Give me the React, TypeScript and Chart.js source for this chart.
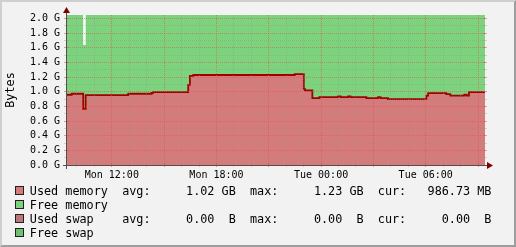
import React, { useEffect, useRef } from 'react';
import { Chart, registerables } from 'chart.js';

Chart.register(...registerables);

// ---- data (time in hours since Monday 00:00, values in G) ----
const times = [9.43, 9.70, 10.36, 10.50, 12.94, 14.28, 14.37, 16.38, 16.48, 16.67, 22.49, 23.01, 23.08, 23.50, 23.90, 24.98, 25.13, 25.55, 25.69, 26.60, 27.27, 27.41, 27.84, 30.04, 30.14, 31.18, 31.41, 32.21, 32.35, 32.48, 33.40];
const usedMemory = [0.959, 0.973, 0.765, 0.955, 0.973, 0.985, 0.996, 1.095, 1.218, 1.229, 1.240, 1.035, 1.020, 0.914, 0.928, 0.937, 0.928, 0.937, 0.928, 0.914, 0.928, 0.914, 0.900, 0.946, 0.982, 0.969, 0.946, 0.959, 0.946, 0.996, 0.996];
const freeMemory = [1.089, 1.075, 0.875, 1.093, 1.075, 1.063, 1.052, 0.953, 0.830, 0.819, 0.808, 1.013, 1.028, 1.134, 1.120, 1.111, 1.120, 1.111, 1.120, 1.134, 1.120, 1.134, 1.148, 1.102, 1.066, 1.079, 1.102, 1.089, 1.102, 1.052, 1.052];
const swapTimes = [9.43, 33.40];
const usedSwap = [0, 0];
const freeSwap = [0, 0];

const xMin = 9.43;
const xMax = 33.40;
const yMax = 2.048;
const xTickHours = [12, 18, 24, 30];
const xTickLabels = ['Mon 12:00', 'Mon 18:00', 'Tue 00:00', 'Tue 06:00'];
const yUnit = ' G';
const yAxisTitle = 'Bytes';

const legendNames = ['Used memory', 'Free memory', 'Used swap', 'Free swap'];
const legendAvg = ['1.02', '', '0.00', ''];
const legendAvgUnit = ['GB', '', 'B', ''];
const legendMax = ['1.23', '', '0.00', ''];
const legendMaxUnit = ['GB', '', 'B', ''];
const legendCur = ['986.73', '', '0.00', ''];
const legendCurUnit = ['MB', '', 'B', ''];

// ---- styles ----
const MONO = "'DejaVu Sans Mono', monospace";
const BACK = '#F2F2F2';
const GRID = 'rgba(143,143,143,0.35)';
const MGRID = 'rgba(222,79,79,0.55)';
const AXIS = '#505050';
const ARROW = '#800000';
const USED_FILL = '#D47C7C';
const FREE_FILL = '#7DD37D';
const USED_LINE = '#A00000';
const LEGEND_COLORS = ['#D47C7C', '#7DD37D', '#BC7777', '#6FC06F'];

const pts = (xs: number[], ys: number[]) => xs.map((x, i) => ({ x, y: ys[i] }));

const legendLine = (i: number) => {
  let s = legendNames[i];
  if (legendAvg[i] === '') return s;
  s = s.padEnd(13);
  const part = (lab: string, v: string, u: string) => lab + v.padStart(9) + ' ' + u.padStart(2);
  s += part('avg:', legendAvg[i], legendAvgUnit[i]) + '  ';
  s += part('max:', legendMax[i], legendMaxUnit[i]) + '  ';
  s += part('cur:', legendCur[i], legendCurUnit[i]);
  return s;
};

const rrdPlugin = {
  id: 'rrdStyle',
  beforeDraw(chart: any) {
    const { ctx, chartArea: a, width, height } = chart;
    ctx.save();
    ctx.fillStyle = BACK;
    ctx.fillRect(0, 0, width, height);
    ctx.fillStyle = '#FFFFFF';
    ctx.fillRect(a.left, a.top, a.right - a.left, a.bottom - a.top);
    ctx.restore();
  },
  afterDatasetsDraw(chart: any) {
    const { ctx, chartArea: a } = chart;
    const xs = chart.scales.x;
    const ys = chart.scales.y;
    const line = (x1: number, y1: number, x2: number, y2: number) => {
      ctx.beginPath();
      ctx.moveTo(x1, y1);
      ctx.lineTo(x2, y2);
      ctx.stroke();
    };
    ctx.save();
    ctx.lineWidth = 1;
    // vertical grid
    for (const t of xs.ticks) {
      const px = Math.floor(xs.getPixelForValue(t.value)) + 0.5;
      const major = Math.round(t.value) % 3 === 0;
      ctx.strokeStyle = major ? MGRID : GRID;
      ctx.setLineDash([1, 1]);
      line(px, a.top, px, a.bottom - 1);
      ctx.setLineDash([]);
      line(px, a.bottom - 2, px, a.bottom + 2);
    }
    // horizontal grid
    for (const t of ys.ticks) {
      const py = Math.floor(ys.getPixelForValue(t.value)) + 0.5;
      const major = Math.round(t.value * 10) % 2 === 0;
      ctx.strokeStyle = major ? MGRID : GRID;
      if (t.value > 0) {
        ctx.setLineDash([1, 1]);
        line(a.left + 1, py, a.right, py);
        ctx.setLineDash([]);
      }
      line(a.left - 3, py, a.left + 2, py);
      line(a.right - 2, py, a.right + 2, py);
    }
    // axes
    ctx.strokeStyle = AXIS;
    line(a.left - 4, a.bottom + 0.5, a.right + 4, a.bottom + 0.5);
    line(a.left - 0.5, a.bottom + 4, a.left - 0.5, a.top - 4);
    // arrows
    ctx.fillStyle = ARROW;
    ctx.beginPath();
    ctx.moveTo(a.right + 2, a.bottom + 0.5 - 3.5);
    ctx.lineTo(a.right + 2, a.bottom + 0.5 + 3.5);
    ctx.lineTo(a.right + 8, a.bottom + 0.5);
    ctx.closePath();
    ctx.fill();
    ctx.beginPath();
    ctx.moveTo(a.left - 0.5 - 3.5, a.top - 2);
    ctx.lineTo(a.left - 0.5 + 3.5, a.top - 2);
    ctx.lineTo(a.left - 0.5, a.top - 8);
    ctx.closePath();
    ctx.fill();
    ctx.restore();
  },
  afterDraw(chart: any) {
    const { ctx, width: W, height: H } = chart;
    ctx.save();
    // legend
    ctx.font = `11.8px ${MONO}`;
    ctx.textBaseline = 'alphabetic';
    ctx.textAlign = 'left';
    for (let i = 0; i < legendNames.length; i++) {
      const base = 195 + i * 14;
      ctx.fillStyle = LEGEND_COLORS[i];
      ctx.fillRect(16, base - 8, 7, 7);
      ctx.strokeStyle = '#202020';
      ctx.lineWidth = 1;
      ctx.strokeRect(15.5, base - 8.5, 8, 8);
      ctx.fillStyle = '#000000';
      ctx.fillText(legendLine(i), 29.8, base);
    }
    // 3D frame
    ctx.fillStyle = '#CFCFCF';
    ctx.beginPath();
    ctx.moveTo(0, H); ctx.lineTo(2, H - 2); ctx.lineTo(2, 2); ctx.lineTo(W - 2, 2); ctx.lineTo(W, 0); ctx.lineTo(0, 0);
    ctx.closePath(); ctx.fill();
    ctx.fillStyle = '#9E9E9E';
    ctx.beginPath();
    ctx.moveTo(2, H - 2); ctx.lineTo(W - 2, H - 2); ctx.lineTo(W - 2, 2); ctx.lineTo(W, 0); ctx.lineTo(W, H); ctx.lineTo(0, H);
    ctx.closePath(); ctx.fill();
    ctx.restore();
  },
};

export default function App() {
  const ref = useRef<HTMLCanvasElement>(null);
  useEffect(() => {
    const canvas = ref.current;
    if (!canvas) return;
    const chart = new Chart(canvas, {
      type: 'line',
      data: {
        datasets: [
          {
            label: 'Used memory',
            data: pts(times, usedMemory),
            stepped: true,
            fill: 'origin',
            backgroundColor: USED_FILL,
            borderColor: USED_LINE,
            borderWidth: 1.8,
            pointRadius: 0,
          },
          {
            label: 'Free memory',
            data: pts(times, freeMemory),
            stepped: true,
            fill: '-1',
            backgroundColor: FREE_FILL,
            borderColor: 'rgba(0,0,0,0)',
            borderWidth: 0,
            pointRadius: 0,
          },
          {
            label: 'Used swap',
            data: pts(swapTimes, usedSwap),
            stack: 'swap',
            fill: false,
            borderWidth: 0,
            borderColor: 'rgba(0,0,0,0)',
            pointRadius: 0,
          },
          {
            label: 'Free swap',
            data: pts(swapTimes, freeSwap),
            stack: 'swap',
            fill: false,
            borderWidth: 0,
            borderColor: 'rgba(0,0,0,0)',
            pointRadius: 0,
          },
        ] as any,
      },
      options: {
        animation: false,
        responsive: false,
        devicePixelRatio: 1,
        layout: { padding: { left: 0, top: 15, right: 31, bottom: 0 } },
        plugins: {
          legend: { display: false },
          tooltip: { enabled: false },
        },
        elements: { point: { radius: 0 }, line: { tension: 0 } },
        scales: {
          x: {
            type: 'linear',
            min: xMin,
            max: xMax,
            afterFit: (s: any) => { s.height = 82; },
            grid: { display: false, drawTicks: false },
            border: { display: false },
            ticks: {
              stepSize: 1,
              autoSkip: false,
              maxRotation: 0,
              minRotation: 0,
              includeBounds: false,
              padding: 4,
              color: '#000000',
              font: { family: MONO, size: 10 },
              callback: (v: any) => {
                const n = Number(v);
                const i = xTickHours.indexOf(Math.round(n));
                return Math.abs(n - Math.round(n)) < 1e-6 && i >= 0 ? xTickLabels[i] : '';
              },
            },
          },
          y: {
            type: 'linear',
            stacked: true,
            min: 0,
            max: yMax,
            afterFit: (s: any) => { s.width = 67; },
            grid: { display: false, drawTicks: false },
            border: { display: false },
            ticks: {
              stepSize: 0.1,
              includeBounds: false,
              autoSkip: false,
              padding: 7,
              color: '#000000',
              font: { family: MONO, size: 10 },
              callback: (v: any) => {
                const t = Math.round(Number(v) * 10);
                return t % 2 === 0 ? (t / 10).toFixed(1) + yUnit : '';
              },
            },
            title: {
              display: true,
              text: yAxisTitle,
              color: '#000000',
              font: { family: MONO, size: 11.8 },
              padding: { top: 3.5, bottom: 0 },
            },
          },
        },
      } as any,
      plugins: [rrdPlugin],
    });
    return () => chart.destroy();
  }, []);
  return (
    <div style={{ position: 'absolute', left: 0, top: 0, width: 516, height: 247 }}>
      <canvas ref={ref} width={516} height={247} style={{ display: 'block', width: 516, height: 247 }} />
    </div>
  );
}
